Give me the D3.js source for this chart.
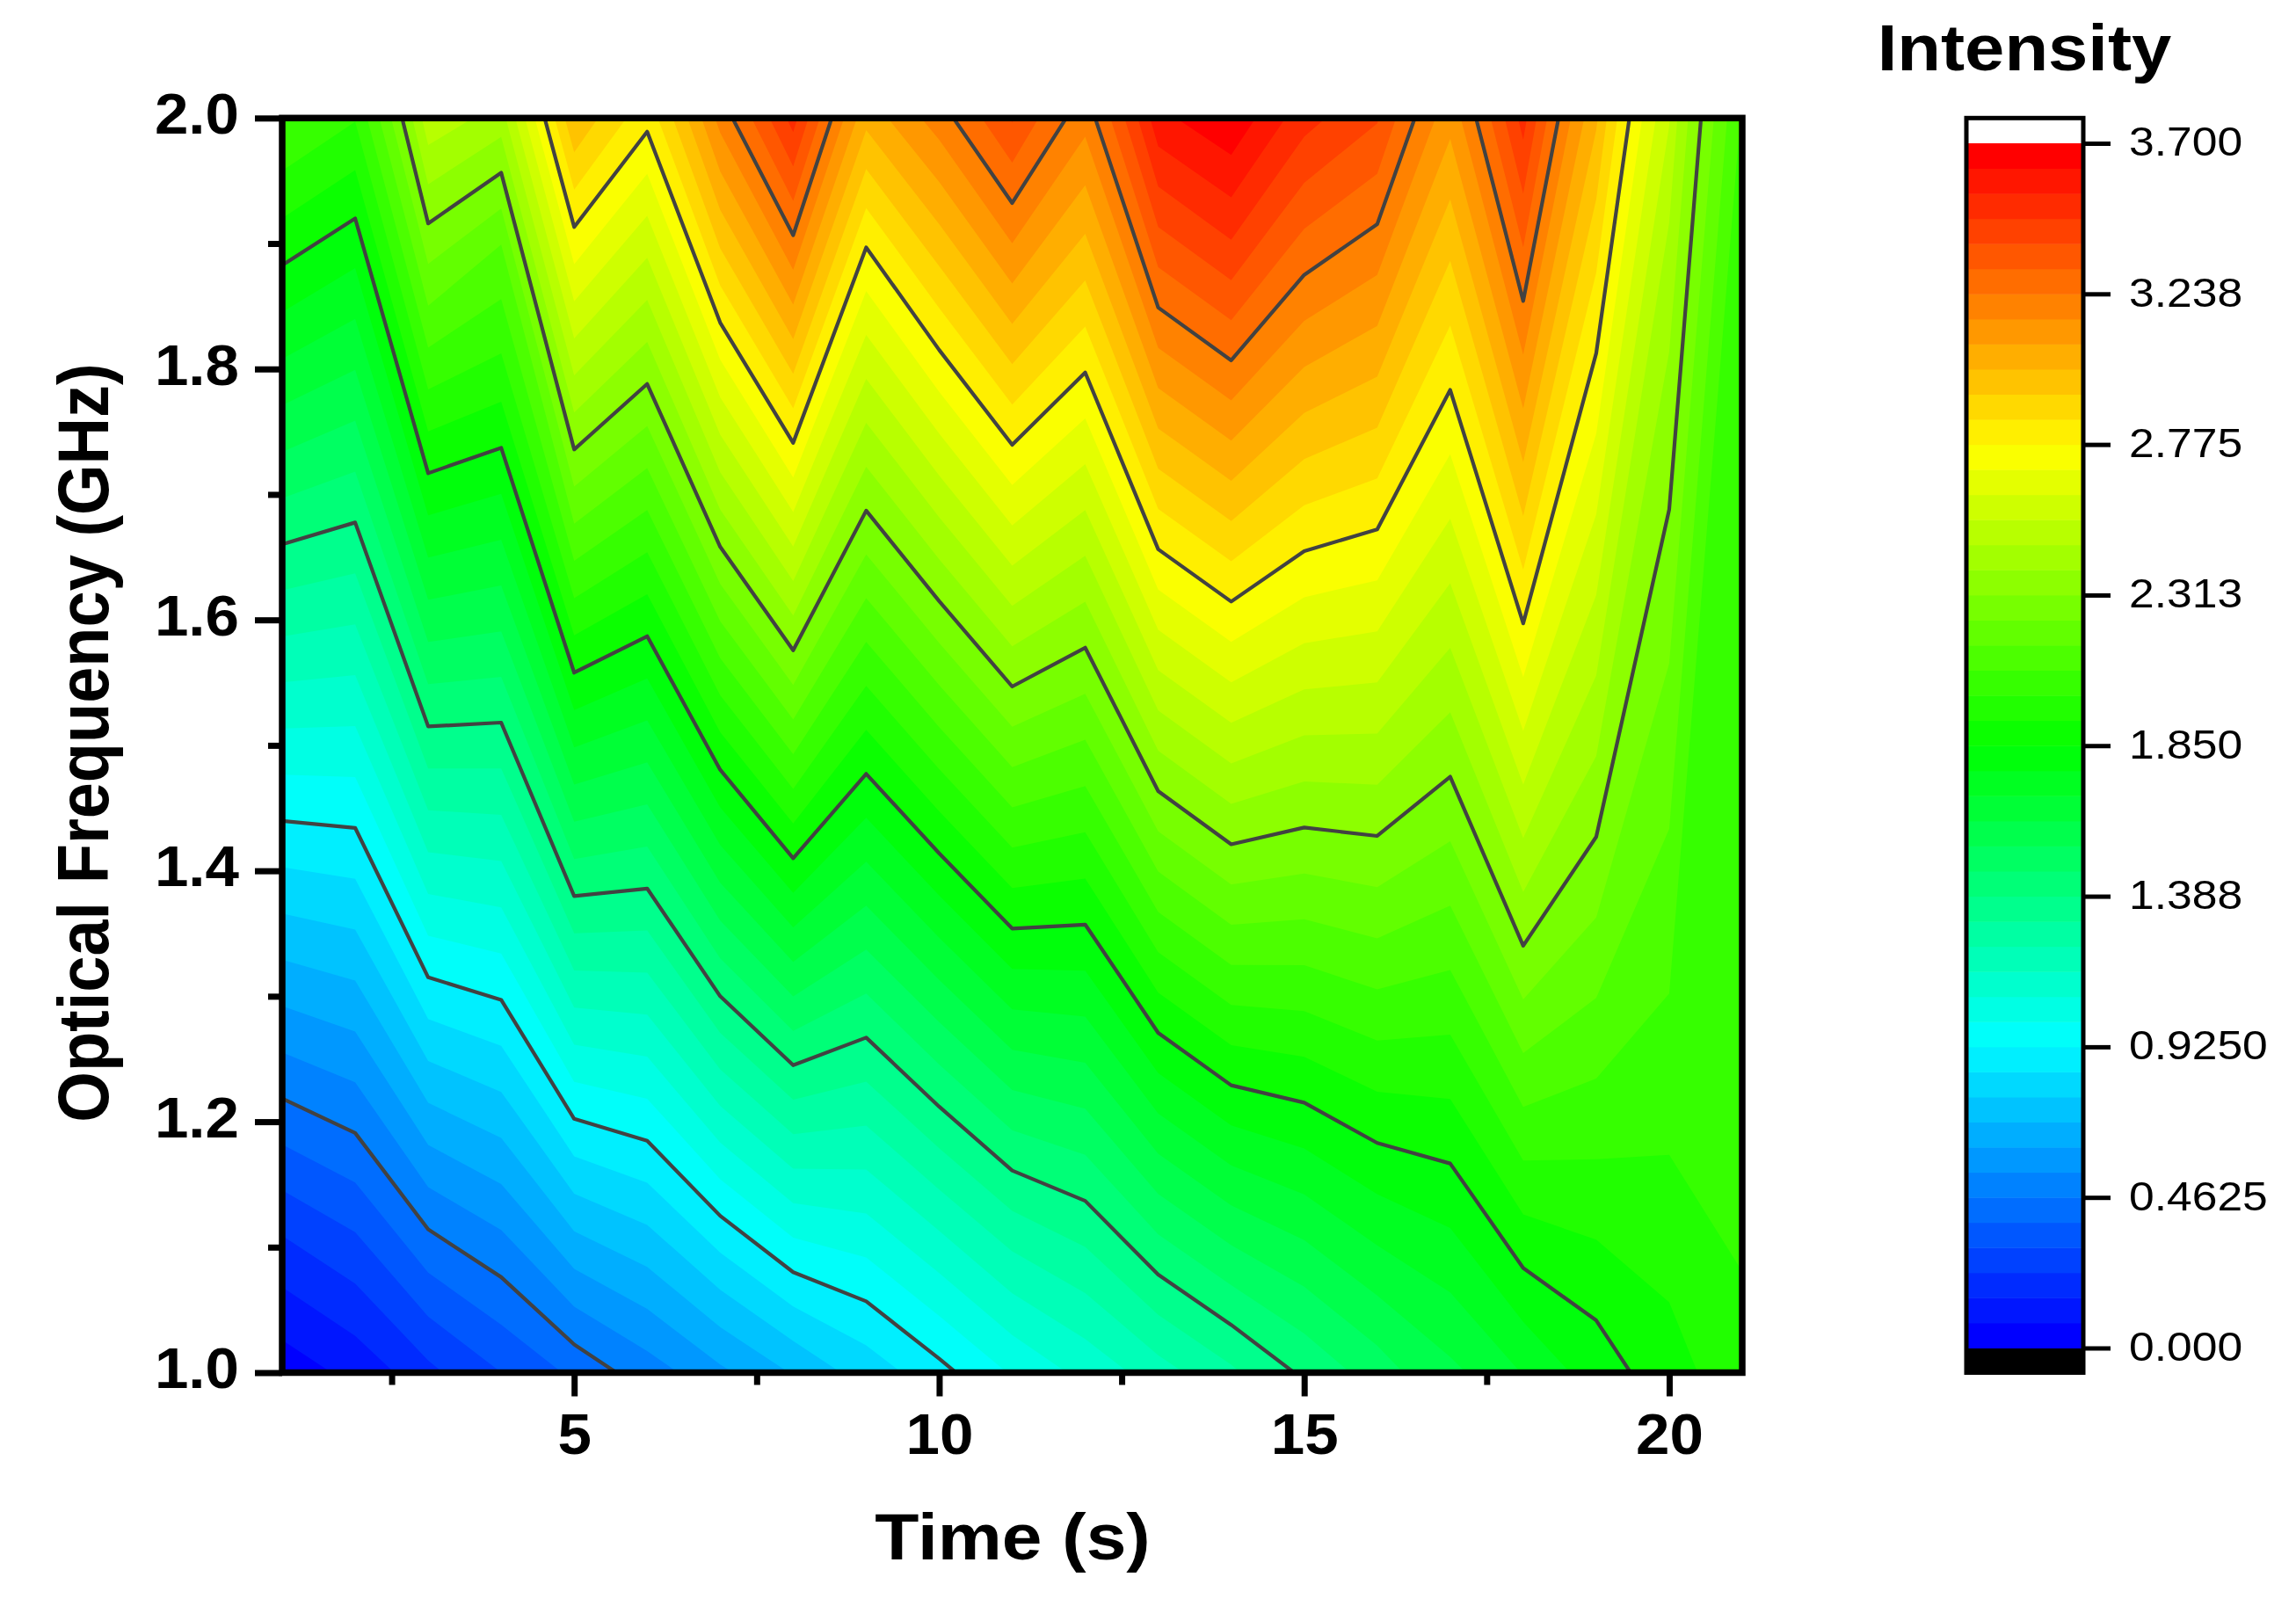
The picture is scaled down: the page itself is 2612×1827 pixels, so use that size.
<!DOCTYPE html>
<html>
<head>
<meta charset="utf-8">
<script src="https://d3js.org/d3.v7.min.js"></script>
<style>
  html, body { margin: 0; background: #fff; }
  text { font-family: "Liberation Sans", Arial, sans-serif; fill: #000; }
</style>
</head>
<body>
<script>
"use strict"

var timeValues = [1, 2, 3, 4, 5, 6, 7, 8, 9, 10, 11, 12, 13, 14, 15, 16, 17, 18, 19, 20, 21];
var freqValues = [1.0, 1.1, 1.2, 1.3, 1.4, 1.5, 1.6, 1.7, 1.8, 1.9, 2.0];

// one list per time, from 1.0 GHz up to 2.0 GHz
var intensity = [
    [0.03, 0.212, 0.424, 0.633, 0.842, 1.051, 1.261, 1.471, 1.679, 1.886, 2.09],
    [0.10, 0.285, 0.48, 0.67, 0.86, 1.05, 1.24, 1.43, 1.62, 1.81, 2.01],
    [0.21, 0.43, 0.659, 0.89, 1.122, 1.353, 1.582, 1.811, 2.042, 2.273, 2.52],
    [0.308, 0.511, 0.721, 0.931, 1.14, 1.349, 1.561, 1.772, 1.982, 2.16, 2.43],
    [0.405, 0.661, 0.919, 1.18, 1.44, 1.70, 1.959, 2.219, 2.48, 2.741, 3.0],
    [0.50, 0.73, 0.96, 1.19, 1.42, 1.65, 1.88, 2.11, 2.34, 2.57, 2.80],
    [0.60, 0.859, 1.123, 1.3875, 1.643, 1.90, 2.161, 2.421, 2.679, 2.939, 3.19],
    [0.70, 0.981, 1.261, 1.542, 1.822, 2.101, 2.38, 2.66, 2.94, 3.219, 3.50],
    [0.80, 1.02, 1.24, 1.46, 1.68, 1.90, 2.12, 2.341, 2.561, 2.782, 3.03],
    [0.90, 1.126, 1.36, 1.589, 1.818, 2.048, 2.278, 2.509, 2.74, 2.971, 3.20],
    [1.01, 1.241, 1.481, 1.721, 1.96, 2.20, 2.44, 2.68, 2.92, 3.16, 3.40],
    [1.10, 1.31, 1.52, 1.73, 1.94, 2.149, 2.359, 2.57, 2.781, 2.991, 3.19],
    [1.20, 1.44, 1.68, 1.92, 2.16, 2.40, 2.64, 2.88, 3.12, 3.36, 3.60],
    [1.295, 1.538, 1.78, 2.021, 2.262, 2.501, 2.74, 2.98, 3.221, 3.462, 3.69],
    [1.40, 1.607, 1.818, 2.029, 2.24, 2.45, 2.66, 2.87, 3.08, 3.29, 3.50],
    [1.50, 1.693, 1.882, 2.071, 2.26, 2.449, 2.638, 2.828, 3.018, 3.208, 3.40],
    [1.60, 1.75, 1.90, 2.05, 2.20, 2.35, 2.50, 2.65, 2.80, 2.95, 3.11],
    [1.70, 1.88, 2.06, 2.24, 2.42, 2.60, 2.78, 2.96, 3.14, 3.32, 3.50],
    [1.80, 1.92, 2.04, 2.16, 2.28, 2.40, 2.52, 2.64, 2.76, 2.88, 3.02],
    [1.885, 1.96, 2.02, 2.08, 2.14, 2.195, 2.257, 2.32, 2.38, 2.45, 2.55],
    [1.98, 2.01, 2.02, 2.03, 2.03, 2.04, 2.04, 2.05, 2.05, 2.06, 2.07]
];

var xMajorTicks = [5, 10, 15, 20];
var xMinorTicks = [2.5, 7.5, 12.5, 17.5];
var yMajorTicks = [1.0, 1.2, 1.4, 1.6, 1.8, 2.0];
var yMinorTicks = [1.1, 1.3, 1.5, 1.7, 1.9];
var legendTicks = [0, 0.4625, 0.925, 1.3875, 1.85, 2.3125, 2.775, 3.2375, 3.7];
var legendLabels = ["0.000", "0.4625", "0.9250", "1.388", "1.850", "2.313", "2.775", "3.238", "3.700"];
var colorStops = ["#0000ff", "#00ffff", "#00ff00", "#ffff00", "#ff0000"];

var bandCount = 48;
var linesEvery = 6;
var maxIntensity = 3.7;

var plotLeft = 321, plotRight = 1982, plotTop = 134.3, plotBottom = 1561.5;
var legendLeft = 2237, legendRight = 2370, legendTop = 163, legendBottom = 1533.5;

var svgContainer = d3.select("body").append("svg")
                                    .attr("width", 2612)
                                    .attr("height", 1827);

var xScale = d3.scaleLinear().domain([1, 21]).range([plotLeft, plotRight]);
var yScale = d3.scaleLinear().domain([1, 2]).range([plotBottom, plotTop]);

var bandColor = d3.scaleLinear()
    .domain(colorStops.map(function (c, i) { return i / (colorStops.length - 1); }))
    .range(colorStops);

// levels: 0, 1/48 of the maximum, 2/48...
var thresholds = d3.range(bandCount).map(function (k) { return k * maxIntensity / bandCount; });

function bandFill(k) {
    return bandColor(k / (bandCount - 1));
}

// where one time column reaches a level; past the ends of the column it carries on
// along its end slope so the level curve leaves the plot at the right place
function crossing(column, level) {
    var n = column.length;
    var step = freqValues[1] - freqValues[0];
    if (column[0] >= level) {
        return freqValues[0] - (column[0] - level) / Math.max(0.6, (column[1] - column[0]) / step);
    }
    for (var j = 1; j < n; j++) {
        if (column[j] >= level) {
            return freqValues[j - 1] + step * (level - column[j - 1]) / (column[j] - column[j - 1]);
        }
    }
    return freqValues[n - 1] + (level - column[n - 1]) / Math.max(0.6, (column[n - 1] - column[n - 2]) / step);
}

var levelCurves = thresholds.map(function (level) {
    return timeValues.map(function (t, i) {
        return { time: t, freq: crossing(intensity[i], level) };
    });
});

// each band is everything above its level curve, painted lowest first
var bandArea = d3.area()
    .x(function (d) { return xScale(d.time); })
    .y0(yScale(6))
    .y1(function (d) { return yScale(d.freq); });

var levelLine = d3.line()
    .x(function (d) { return xScale(d.time); })
    .y(function (d) { return yScale(d.freq); });

svgContainer.append("clipPath").attr("id", "plotClip")
    .append("rect")
    .attr("x", plotLeft)
    .attr("y", plotTop)
    .attr("width", plotRight - plotLeft)
    .attr("height", plotBottom - plotTop);

var plot = svgContainer.append("g").attr("clip-path", "url(#plotClip)");

plot.selectAll("path.band")
    .data(levelCurves)
    .enter().append("path")
    .attr("class", "band")
    .attr("d", bandArea)
    .attr("fill", function (d, i) { return bandFill(i); });

plot.selectAll("path.line")
    .data(levelCurves.filter(function (d, i) { return i > 0 && i % linesEvery === 0; }))
    .enter().append("path")
    .attr("class", "line")
    .attr("d", levelLine)
    .attr("fill", "none")
    .attr("stroke", "#424242")
    .attr("stroke-width", 4.2)
    .attr("stroke-linejoin", "round");

// frame
svgContainer.append("rect")
    .attr("x", plotLeft)
    .attr("y", plotTop)
    .attr("width", plotRight - plotLeft)
    .attr("height", plotBottom - plotTop)
    .attr("fill", "none")
    .attr("stroke", "#000")
    .attr("stroke-width", 7.5);

// axes
function styleAxis(g) {
    g.select(".domain").remove();
    g.selectAll("line").attr("stroke", "#000").attr("stroke-width", 7);
    g.selectAll("text")
        .attr("font-size", 64)
        .attr("font-weight", "bold")
        .attr("font-family", "Liberation Sans");
}

svgContainer.append("g")
    .attr("transform", "translate(0," + plotBottom + ")")
    .call(d3.axisBottom(xScale).tickValues(xMajorTicks).tickSize(27).tickPadding(20).tickFormat(d3.format("d")))
    .call(styleAxis)
    .selectAll("text")
    .attr("transform", "scale(1.08,1)");

svgContainer.append("g")
    .attr("transform", "translate(0," + plotBottom + ")")
    .call(d3.axisBottom(xScale).tickValues(xMinorTicks).tickSize(14).tickFormat(""))
    .call(styleAxis);

svgContainer.append("g")
    .attr("transform", "translate(" + plotLeft + ",0)")
    .call(d3.axisLeft(yScale).tickValues(yMajorTicks).tickSize(31).tickFormat(d3.format(".1f")))
    .call(styleAxis)
    .selectAll("text")
    .attr("x", 0)
    .attr("dy", "0.27em")
    .attr("transform", "translate(-49,0) scale(1.08,1)");

svgContainer.append("g")
    .attr("transform", "translate(" + plotLeft + ",0)")
    .call(d3.axisLeft(yScale).tickValues(yMinorTicks).tickSize(16).tickFormat(""))
    .call(styleAxis);

svgContainer.append("text")
    .attr("transform", "translate(1152,1774) scale(1.11,1)")
    .attr("font-size", 74)
    .attr("font-weight", "bold")
    .attr("text-anchor", "middle")
    .text("Time (s)");

svgContainer.append("text")
    .attr("transform", "translate(123,845) scale(1.11,1) rotate(-90)")
    .attr("font-size", 74)
    .attr("font-weight", "bold")
    .attr("text-anchor", "middle")
    .text("Optical Frequency (GHz)");

// colour bar
var legendScale = d3.scaleLinear().domain([0, maxIntensity]).range([legendBottom, legendTop]);

svgContainer.append("rect")
    .attr("x", legendLeft)
    .attr("y", legendBottom)
    .attr("width", legendRight - legendLeft)
    .attr("height", plotBottom - legendBottom)
    .attr("fill", "#000");

svgContainer.selectAll("rect.legendBand")
    .data(thresholds)
    .enter().append("rect")
    .attr("class", "legendBand")
    .attr("x", legendLeft)
    .attr("y", function (d) { return legendScale(d + maxIntensity / bandCount); })
    .attr("width", legendRight - legendLeft)
    .attr("height", legendScale(0) - legendScale(maxIntensity / bandCount) + 0.5)
    .attr("fill", function (d, i) { return bandFill(i); });

svgContainer.append("rect")
    .attr("x", legendLeft)
    .attr("y", plotTop)
    .attr("width", legendRight - legendLeft)
    .attr("height", plotBottom - plotTop)
    .attr("fill", "none")
    .attr("stroke", "#000")
    .attr("stroke-width", 5);

var legendAxis = svgContainer.append("g")
    .attr("transform", "translate(" + legendRight + ",0)")
    .call(d3.axisRight(legendScale)
        .tickValues(legendTicks)
        .tickSize(31)
        .tickFormat(function (d, i) { return legendLabels[i]; }));

legendAxis.select(".domain").remove();
legendAxis.selectAll("line").attr("stroke", "#000").attr("stroke-width", 5);
legendAxis.selectAll("text")
    .attr("font-size", 46.5)
    .attr("font-family", "Liberation Sans")
    .attr("x", 0)
    .attr("dy", "0.30em")
    .attr("transform", "translate(52,0) scale(1.11,1)");

svgContainer.append("text")
    .attr("transform", "translate(2303,80) scale(1.1,1)")
    .attr("font-size", 74)
    .attr("font-weight", "bold")
    .attr("text-anchor", "middle")
    .text("Intensity");
</script>
</body>
</html>
